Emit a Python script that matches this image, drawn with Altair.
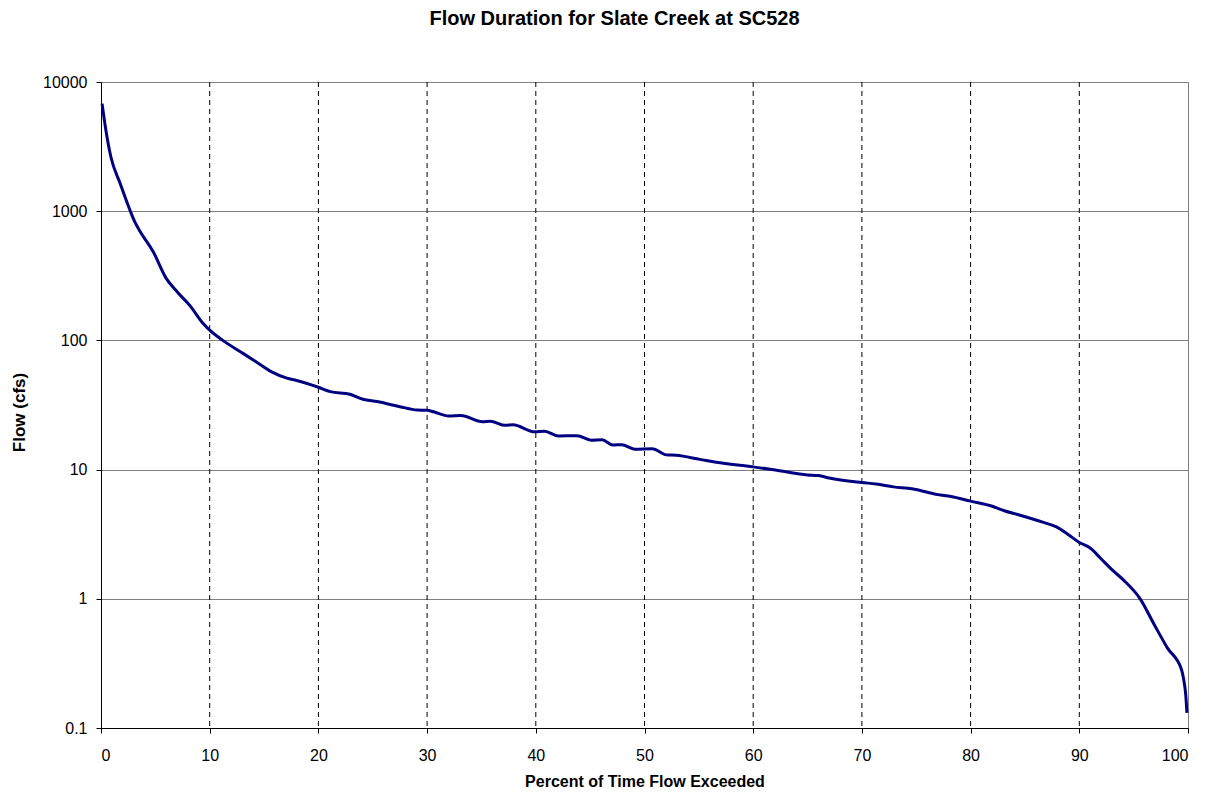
import altair as alt
import pandas as pd

pct = [0.1, 0.4, 0.9, 1.75, 2.7, 3.1, 3.7, 4.8, 6.0, 7.0, 8.2, 9.4, 10.0, 11.2,
       13.1, 14.3, 15.7, 17.1, 18.0, 20.0, 21.1, 22.9, 24.1, 25.4, 27.5, 29.1,
       30.0, 30.6, 32.0, 33.1, 35.1, 35.8, 37.2, 37.9, 39.9, 40.8, 42.1, 43.8,
       45.1, 46.1, 47.1, 47.9, 49.1, 50.7, 52.0, 52.9, 55.1, 56.6, 60.0, 62.4,
       65.0, 66.0, 67.0, 70.0, 71.3, 72.9, 74.6, 77.0, 78.2, 80.0, 82.0, 83.1,
       84.4, 86.7, 87.9, 89.0, 90.0, 91.0, 92.0, 93.0, 94.1, 95.6, 96.9, 98.1,
       99.4, 99.6, 99.8, 99.9]
flow = [6800, 4500, 2650, 1650, 1000, 830, 675, 486, 302, 238, 185, 135, 120, 100,
        79, 68, 57, 51, 49, 43.4, 40.1, 38.3, 35, 33.6, 30.7, 28.9,
        28.8, 28, 26, 26.2, 23.5, 23.7, 22, 22.2, 19.6, 19.8, 18.2, 18.3,
        16.9, 17.0, 15.5, 15.6, 14.4, 14.5, 13.0, 12.9, 12.0, 11.4, 10.5, 9.8,
        9.1, 9.0, 8.6, 7.94, 7.74, 7.35, 7.1, 6.4, 6.2, 5.7, 5.2, 4.8,
        4.47, 3.9, 3.6, 3.13, 2.73, 2.47, 2.04, 1.68, 1.39, 1.0, 0.63, 0.417,
        0.284, 0.238, 0.177, 0.131]

x_ticks = [0, 10, 20, 30, 40, 50, 60, 70, 80, 90, 100]
x_grid = [10, 20, 30, 40, 50, 60, 70, 80, 90]
y_ticks = [0.1, 1, 10, 100, 1000, 10000]

df = pd.DataFrame({"pct": pct, "flow": flow})
grid_df = pd.DataFrame({"g": x_grid})

FONT = "Liberation Sans"

xscale = alt.Scale(domain=[0, 100], nice=False, zero=False)
yscale = alt.Scale(type="log", domain=[0.1, 10000], nice=False)

xaxis = alt.Axis(values=x_ticks, title="Percent of Time Flow Exceeded",
                 grid=False, tickSize=5, labelPadding=14, format="d",
                 titleX=543.5, titleY=53, titleBaseline="middle", titleFontSize=16)

grid = alt.Chart(grid_df).mark_rule(
    color="#000000", strokeWidth=1, strokeDash=[5, 4]
).encode(x=alt.X("g:Q", scale=xscale, axis=xaxis))

line = alt.Chart(df).mark_line(color="#000080", strokeWidth=3, interpolate="monotone").encode(
    x=alt.X("pct:Q", scale=xscale, axis=xaxis),
    y=alt.Y("flow:Q", scale=yscale,
            axis=alt.Axis(values=y_ticks, title="Flow (cfs)", format="~g",
                          grid=True, gridColor="#808080", gridWidth=1, gridOpacity=1,
                          tickSize=5, labelPadding=9,
                          titleX=-82, titleY=330, titleAngle=270,
                          titleAlign="center", titleBaseline="middle")),
)

chart = alt.layer(grid, line).properties(
    width=1087, height=646,
    background="white",
    autosize=alt.AutoSizeParams(type="none"),
    padding={"left": 93, "top": 74, "right": 15, "bottom": 62},
    title=alt.TitleParams("Flow Duration for Slate Creek at SC528", fontSize=20,
                          font=FONT, fontWeight="bold", color="#000000",
                          anchor="middle", dx=-30, offset=45),
).configure_view(
    stroke="#808080", strokeWidth=1
).configure_axis(
    domainColor="#000000", domainWidth=1, tickColor="#000000", tickWidth=1,
    labelFont=FONT, labelFontSize=16, labelColor="#000000",
    titleFont=FONT, titleFontSize=17, titleFontWeight="bold", titleColor="#000000",
)

chart.save("out.html", embed_options={"renderer": "svg", "actions": False})
